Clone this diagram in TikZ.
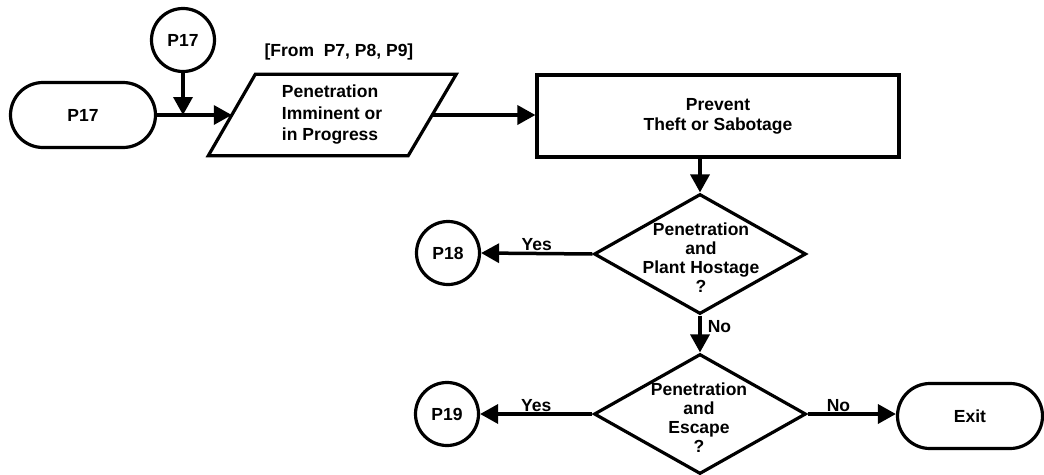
\documentclass[tikz,border=0pt]{standalone}
\usepackage{fontspec}
\setmainfont{Liberation Sans}
\usetikzlibrary{arrows.meta,shapes.geometric,shapes.misc,calc}
\begin{document}
\begin{tikzpicture}[x=1pt,y=-1pt,
  every node/.style={font=\fontsize{17.5}{20}\selectfont\bfseries},
  shp/.style={draw,line width=3.2pt},
  term/.style={shp,rounded rectangle,minimum width=145pt,minimum height=65pt,inner sep=0pt},
  conn/.style={shp,circle,minimum size=63pt,inner sep=0pt},
  boxstep/.style={shp,rectangle,minimum width=362pt,minimum height=82pt,align=center},
  dia/.style={shp,diamond,minimum width=212pt,minimum height=120pt,inner sep=0pt},
  ghost/.style={rectangle,minimum width=200pt,minimum height=81pt,inner sep=0pt},
  arr/.style={line width=3.5pt,-{Triangle[length=18pt 0 0,width=19pt 0 0]}},
  lbl/.style={inner sep=1pt}]
\useasboundingbox (0,0) rectangle (1044,474);

\node[term] (t17) at (83,115) {P17};
\node[conn] (c17) at (183,40) {P17};
\node[ghost,align=left,font=\fontsize{17.5}{21.5}\selectfont\bfseries] (pg) at (332,115) {Penetration\\Imminent or\\in Progress};
\draw[shp,line join=miter] ($(pg.north west)+(23.5,0)$) -- ($(pg.north east)+(24,0)$) -- ($(pg.south east)+(-24,0)$) -- ($(pg.south west)+(-23.5,0)$) -- cycle;
\node[anchor=west] (from) at (261,52) {[From\ \ P7, P8, P9]};
\node[boxstep] (prev) at (718,116) {Prevent\\Theft or Sabotage};

\node[dia] (d1) at (700,254) {};
\node[align=center,font=\fontsize{17.5}{19}\selectfont\bfseries] (d1t) at (701,258) {Penetration\\and\\Plant Hostage\\?};
\node[conn] (c18) at (448,253) {P18};

\node[dia] (d2) at (700,414) {};
\node[align=center,font=\fontsize{17.5}{19}\selectfont\bfseries] (d2t) at (699,418) {Penetration\\and\\Escape\\?};
\node[conn] (c19) at (447,414) {P19};
\node[term] (exit) at (970,416) {Exit};

\coordinate (j) at (c17.south |- t17.east);
\draw[line width=3.5pt] (t17.east) -- (j);
\draw[arr] (c17.south) -- (j);
\draw[arr] (j) -- (pg.west);
\draw[arr] (pg.east) -- (pg.east -| prev.west);
\draw[arr] (d1.north |- prev.south) -- (d1.north);
\draw[arr] (d1.west) -- node[lbl,above,pos=0.5] {Yes} (c18.east);
\draw[arr] (d1.south) -- node[lbl,right,pos=0.3,xshift=5pt] {No} (d2.north);
\draw[arr] (d2.west) -- node[lbl,above,pos=0.5] {Yes} (c19.east);
\draw[arr] (d2.east) -- node[lbl,above,pos=0.35] {No} (exit.west |- d2.east);
\end{tikzpicture}
\end{document}
